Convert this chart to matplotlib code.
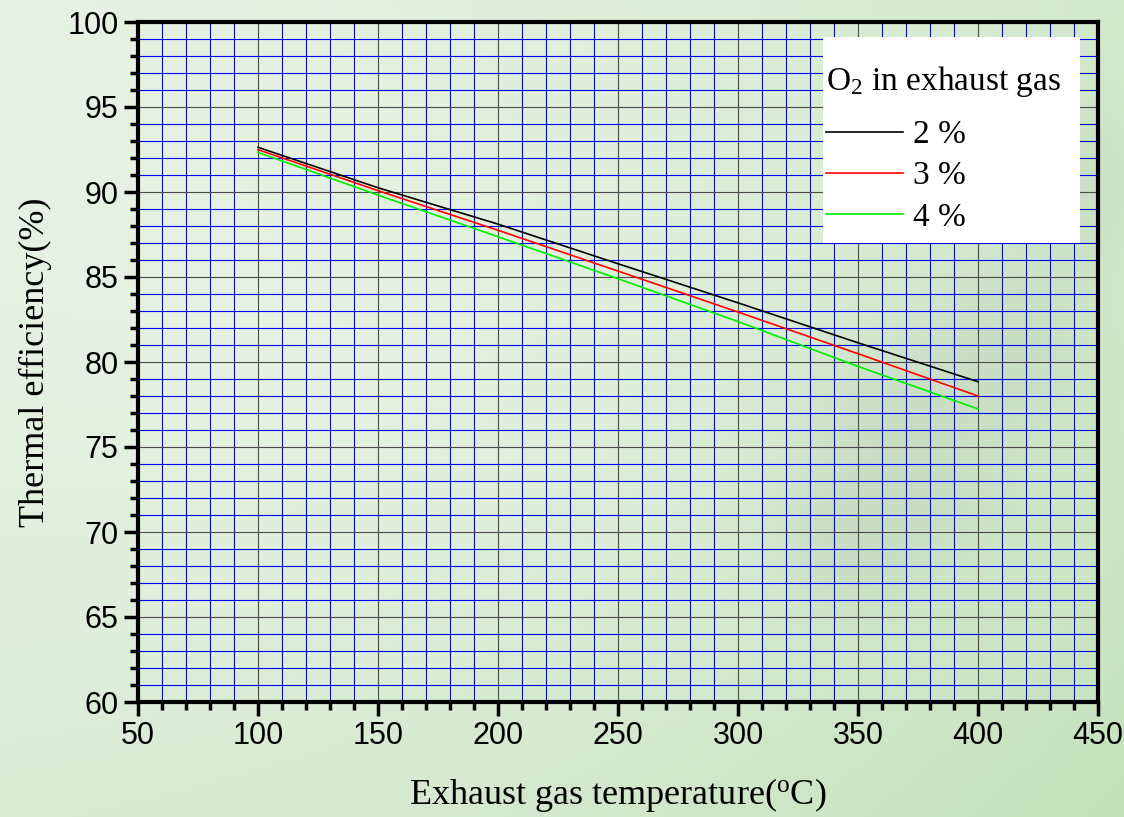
import numpy as np
import matplotlib
matplotlib.use("Agg")
import matplotlib.pyplot as plt
from matplotlib.ticker import MultipleLocator
from matplotlib.patches import Rectangle

plt.rcParams['mathtext.fontset'] = 'custom'
plt.rcParams['mathtext.rm'] = 'Liberation Serif'
plt.rcParams['mathtext.it'] = 'Liberation Serif:italic'

temperature = [100, 150, 200, 250, 300, 350, 400]
eff_o2_2 = [92.63, 90.25, 88.11, 85.78, 83.48, 81.13, 78.84]
eff_o2_3 = [92.49, 90.08, 87.75, 85.35, 82.94, 80.49, 78.00]
eff_o2_4 = [92.33, 89.82, 87.37, 84.90, 82.38, 79.74, 77.24]
series_labels = ['2 %', '3 %', '4 %']
series_colors = ['black', '#ff0000', '#00ee00']

W, H = 1124, 817
fig = plt.figure(figsize=(W / 100, H / 100), dpi=100)

# background gradient
bg = fig.add_axes([0, 0, 1, 1], zorder=-10)
yy, xx = np.mgrid[0:1:200j, 0:1:280j]
r = np.sqrt(((xx - 0.35) / 0.9) ** 2 + ((yy - 0.45) / 0.9) ** 2)
t = np.clip(0.35 * r + 0.35 * xx + 0.25 * yy, 0, 1)
c0 = np.array([0.94, 0.97, 0.93])
c1 = np.array([0.76, 0.88, 0.73])
img = c0[None, None, :] * (1 - t[..., None]) + c1[None, None, :] * t[..., None]
def blob(cx, cy, sx, sy, a):
    return a * np.exp(-(((xx - cx) / sx) ** 2 + ((yy - cy) / sy) ** 2))
shade = (blob(0.80, 0.55, 0.10, 0.14, 0.16) + blob(0.90, 0.40, 0.07, 0.10, 0.12)
         + blob(0.75, 0.68, 0.06, 0.08, 0.10) + blob(0.97, 0.22, 0.04, 0.10, 0.10))
shade = np.clip(shade, 0, 0.25)
tint = np.array([0.55, 0.62, 0.55])
img = img * (1 - shade[..., None]) + tint[None, None, :] * shade[..., None]
bg.imshow(img, extent=[0, 1, 0, 1], aspect='auto', origin='upper')
bg.axis('off')

AX_L, AX_R, AX_T, AX_B = 138, 1098, 22, 702
ax = fig.add_axes([AX_L / W, 1 - AX_B / H, (AX_R - AX_L) / W, (AX_B - AX_T) / H])
ax.patch.set_alpha(0)

def axx(px):
    return (px - AX_L) / (AX_R - AX_L)

def axy(py):
    return 1 - (py - AX_T) / (AX_B - AX_T)

ax.set_xlim(50, 450)
ax.set_ylim(60, 100)
ax.xaxis.set_major_locator(MultipleLocator(50))
ax.xaxis.set_minor_locator(MultipleLocator(10))
ax.yaxis.set_major_locator(MultipleLocator(5))
ax.yaxis.set_minor_locator(MultipleLocator(1))

ax.grid(which='minor', color='#0000ff', linewidth=0.8, zorder=0)
ax.grid(which='major', color='#4a4a4a', linewidth=0.8, zorder=0)
ax.set_axisbelow(True)

for vals, lab, col in zip([eff_o2_2, eff_o2_3, eff_o2_4], series_labels, series_colors):
    ax.plot(temperature, vals, color=col, linewidth=1.2, label=lab, zorder=3)

for s in ax.spines.values():
    s.set_linewidth(3)
    s.set_color('black')

ax.tick_params(which='major', direction='out', length=10, width=2.5,
               labelsize=22, pad=4)
ax.tick_params(which='minor', direction='out', length=6, width=2.5)
ax.tick_params(top=False, right=False, which='both')
for lab in ax.get_xticklabels() + ax.get_yticklabels():
    lab.set_fontfamily('Liberation Sans')

ax.set_xlabel(r'Exhaust gas temperature($^{\rm o}$C)', fontsize=26,
              family='Liberation Serif', labelpad=18)
ax.set_ylabel('Thermal efficiency(%)', fontsize=26,
              family='Liberation Serif', labelpad=11)

# white legend box
ax.add_patch(Rectangle((axx(823), axy(243)), axx(1080) - axx(823), axy(37) - axy(243),
                       transform=ax.transAxes, facecolor='white', edgecolor='none',
                       zorder=4))

leg = ax.legend(title=r'O$_2$ in exhaust gas', loc='upper left',
                bbox_to_anchor=(axx(826), axy(64)),
                frameon=False,
                prop={'family': 'Liberation Serif', 'size': 24},
                title_fontproperties={'family': 'Liberation Serif', 'size': 24},
                handlelength=2.3, handletextpad=0.3, labelspacing=0.32,
                borderpad=0, borderaxespad=0, alignment='left')
leg.set_zorder(5)
leg._legend_box.sep = 15
for h in leg.legend_handles:
    h.set_linewidth(1.2)

fig.savefig('out.png', dpi=100)
